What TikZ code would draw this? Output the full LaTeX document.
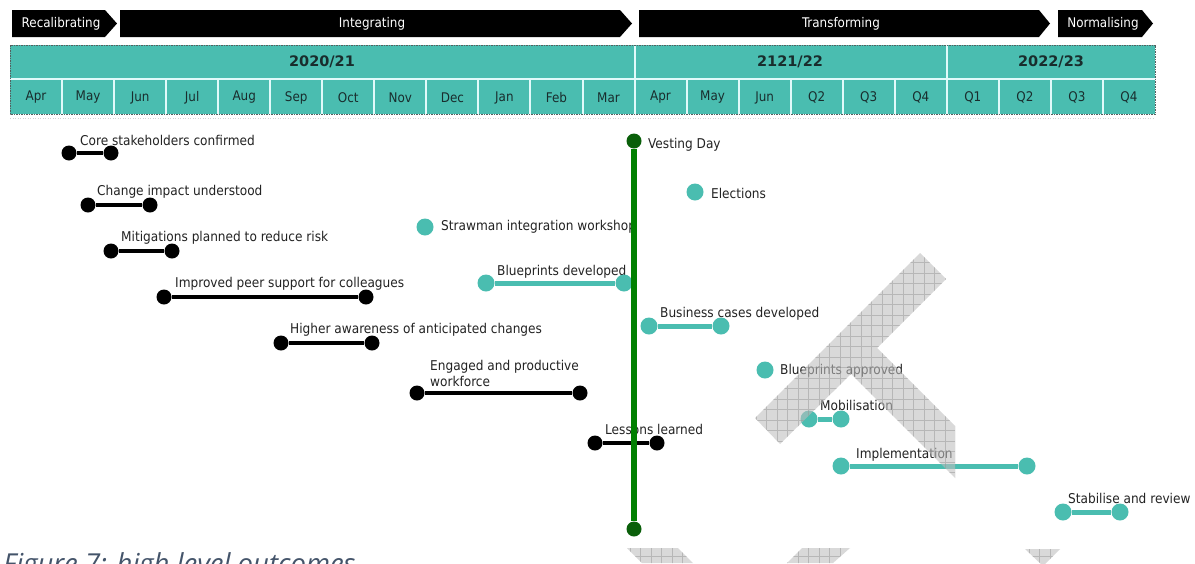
\documentclass[tikz,border=0pt]{standalone}
\usepackage{fontspec}
\setmainfont{DejaVu Sans}
\newfontfamily\cond{DejaVu Sans Condensed}
\newfontfamily\capfont{Open Sans}
\definecolor{tl}{RGB}{74,189,176}
\definecolor{sepc}{RGB}{225,250,250}
\definecolor{gln}{RGB}{0,128,0}
\definecolor{gdk}{RGB}{10,95,10}
\definecolor{lblc}{RGB}{35,35,35}
\definecolor{monc}{RGB}{25,45,45}
\definecolor{capc}{RGB}{68,84,106}
\definecolor{bordc}{RGB}{85,95,95}
\definecolor{wmc}{RGB}{190,190,190}
\definecolor{wml}{RGB}{150,150,150}
\tikzset{
 lbl/.style={anchor=base west, inner sep=0pt, text=lblc, font=\cond\fontsize{13.5}{16}\selectfont},
 lblw/.style={lbl, anchor=west},
 bdot/.style={circle, fill=black, inner sep=0pt, minimum size=15pt},
 tdot/.style={circle, fill=tl, inner sep=0pt, minimum size=17pt},
 gdot/.style={circle, fill=gdk, inner sep=0pt, minimum size=15pt},
 bbar/.style={line width=4.5pt, black},
 tbar/.style={line width=5pt, tl},
 phasebox/.style={fill=black},
 phtext/.style={text=white, font=\cond\fontsize{13.3}{15}\selectfont, inner sep=0pt},
 month/.style={text=monc, font=\cond\fontsize{13.3}{15}\selectfont, inner sep=0pt},
 year/.style={text=monc, font=\bfseries\fontsize{14.5}{17}\selectfont, inner sep=0pt},
 sepline/.style={line width=2pt, sepc},
}
\begin{document}
\begin{tikzpicture}[x=1pt,y=-1pt]
\useasboundingbox (0,0) rectangle (1195,563);
\clip (0,0) rectangle (1195,563);
\fill[white] (0,0) rectangle (1195,563);

% phase arrows
\fill[phasebox] (12,10) -- (105,10) -- (117,23.5) -- (105,37) -- (12,37) -- cycle;
\fill[phasebox] (120,10) -- (620,10) -- (632,23.5) -- (620,37) -- (120,37) -- cycle;
\fill[phasebox] (639,10) -- (1039,10) -- (1050,23.5) -- (1039,37) -- (639,37) -- cycle;
\fill[phasebox] (1058,10) -- (1142,10) -- (1153,23.5) -- (1142,37) -- (1058,37) -- cycle;
\node[phtext] (ph1) at (61,23.5) {Recalibrating};
\node[phtext] (ph2) at (372,23.5) {Integrating};
\node[phtext] (ph3) at (841,23.5) {Transforming};
\node[phtext] (ph4) at (1103,23.5) {Normalising};

% table
\fill[tl] (10,45) rectangle (1155,114);
\draw[sepline] (10,79) -- (1155,79);
\foreach \i in {1,...,21} \draw[sepline] ({10+52.045*\i},80) -- ({10+52.045*\i},114);
\foreach \i in {12,18} \draw[sepline] ({10+52.045*\i},45) -- ({10+52.045*\i},79);
\draw[bordc, line width=0.8pt, dash pattern=on 1.5pt off 1pt] (10,45) rectangle (1155,114);
\draw[gray!35, line width=0.8pt, dash pattern=on 1pt off 1.5pt] (10,118) -- (1155,118);
\node[year] (y1) at (322,62) {2020/21};
\node[year] (y2) at (790,62) {2121/22};
\node[year] (y3) at (1051,62) {2022/23};
\foreach \m [count=\i from 0] in {Apr,May,Jun,Jul,Aug,Sep,Oct,Nov,Dec,Jan,Feb,Mar,Apr,May,Jun,Q2,Q3,Q4,Q1,Q2,Q3,Q4}
  \node[month] (m\i) at ({10+52.045*(\i+0.5)},97.5) {\m};

% labels
\node[lbl] (l1) at (80,145) {Core stakeholders confirmed};
\node[lbl] (l2) at (97,195) {Change impact understood};
\node[lbl] (l3) at (121,241) {Mitigations planned to reduce risk};
\node[lbl] (l4) at (175,287) {Improved peer support for colleagues};
\node[lbl] (l5) at (290,333) {Higher awareness of anticipated changes};
\node[lbl] (l6) at (430,370) {Engaged and productive};
\node[lbl] (l6b) at (430,386) {workforce};
\node[lbl] (l7) at (605,434) {Lessons learned};
\node[lblw] (lv) at (648,145) {Vesting Day};
\node[lblw] (le) at (711,193) {Elections};
\node[lblw] (ls) at (441,227) {Strawman integration workshop};
\node[lbl] (lbd) at (497,275) {Blueprints developed};
\node[lbl] (lbc) at (660,317) {Business cases developed};
\node[lblw] (lba) at (780,371) {Blueprints approved};
\node[lbl] (lmo) at (820,410) {Mobilisation};
\node[lbl] (lim) at (856,458) {Implementation};
\node[lbl] (lst) at (1068,503) {Stabilise and review};

% black items
\node[bdot] (a1) at (69,153) {};   \node[bdot] (b1) at (111,153) {};
\node[bdot] (a2) at (88,205) {};   \node[bdot] (b2) at (150,205) {};
\node[bdot] (a3) at (111,251) {};  \node[bdot] (b3) at (172,251) {};
\node[bdot] (a4) at (164,297) {};  \node[bdot] (b4) at (366,297) {};
\node[bdot] (a5) at (281,343) {};  \node[bdot] (b5) at (372,343) {};
\node[bdot] (a6) at (417,393) {};  \node[bdot] (b6) at (580,393) {};
\node[bdot] (a7) at (595,443) {};  \node[bdot] (b7) at (657,443) {};
\foreach \k in {1,...,7} \draw[bbar] (a\k) -- (b\k);

% teal items
\node[tdot] (te) at (695,192) {};
\node[tdot] (ts) at (425,227) {};
\node[tdot] (ta) at (765,370) {};
\node[tdot] (c1) at (486,283) {};  \node[tdot] (d1) at (624,283) {};
\node[tdot] (c2) at (649,326) {};  \node[tdot] (d2) at (721,326) {};
\node[tdot] (c3) at (809,419) {};  \node[tdot] (d3) at (841,419) {};
\node[tdot] (c4) at (841,466) {};  \node[tdot] (d4) at (1027,466) {};
\node[tdot] (c5) at (1063,512) {}; \node[tdot] (d5) at (1120,512) {};
\foreach \k in {1,...,5} \draw[tbar] (c\k) -- (d\k);

% vesting day
\node[gdot] (vt) at (634,141) {};
\node[gdot] (vb) at (634,529) {};
\draw[line width=5.5pt, gln] (vt) -- (vb);

% caption
\node[anchor=base west, inner sep=0pt, text=capc, font=\capfont\itshape\fontsize{27.5}{32}\selectfont] (cap) at (3,573) {Figure 7: high level outcomes};

% watermark
\begin{scope}
\clip (920,253) -- (946,279) -- (877,348) -- (955,426) -- (955,478) -- (851,374) -- (780,444) -- (755,418) -- cycle
      (627,548) -- (678,548) -- (693,563) -- (642,563) -- cycle
      (802,548) -- (850,548) -- (833,563) -- (787,563) -- cycle
      (1025,549) -- (1060,549) -- (1043,566) -- cycle;
\fill[wmc, fill opacity=0.58] (600,240) rectangle (1100,570);
\draw[wml, line width=0.5pt, opacity=0.5] (600,240) grid[xstep=10.5pt, ystep=10.5pt] (1100,570);
\end{scope}
\end{tikzpicture}
\end{document}
